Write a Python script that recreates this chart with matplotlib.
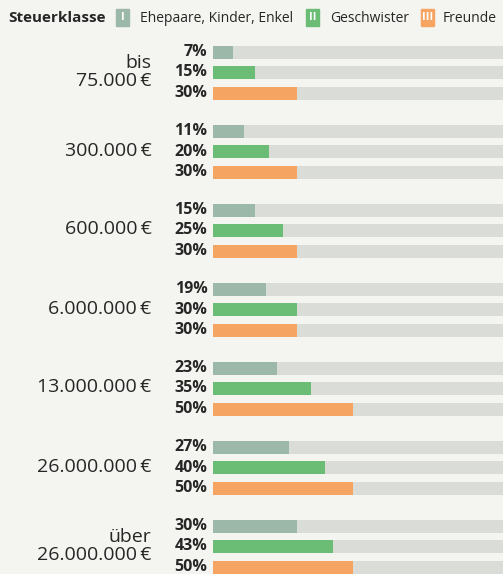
import matplotlib.pyplot as plt
from matplotlib.patches import Rectangle

# Erbschaftsteuersätze nach Steuerklasse
groups = ['bis\n75.000\u2009€', '300.000\u2009€', '600.000\u2009€', '6.000.000\u2009€',
          '13.000.000\u2009€', '26.000.000\u2009€', 'über\n26.000.000\u2009€']
klasse_1 = [7, 11, 15, 19, 23, 27, 30]   # Ehepaare, Kinder, Enkel
klasse_2 = [15, 20, 25, 30, 35, 40, 43]  # Geschwister
klasse_3 = [30, 30, 30, 30, 50, 50, 50]  # Freunde
legend_names = ['Ehepaare, Kinder, Enkel', 'Geschwister', 'Freunde']
legend_marks = ['I', 'II', 'III']

colors = ['#9bb8a8', '#6bbd76', '#f6a462']
track = '#dadcd7'
bg = '#f4f4f0'
txt = '#262626'

plt.rcParams['font.family'] = ['Open Sans', 'DejaVu Sans']

fig = plt.figure(figsize=(5.03, 5.74), dpi=100, facecolor=bg)
ax = fig.add_axes([0, 0, 1, 1])
ax.set_facecolor(bg)
ax.set_xlim(-213 / 2.8, 290 / 2.8)
ax.set_ylim(574, 0)
ax.axis('off')

series = [klasse_1, klasse_2, klasse_3]
y0, gstep, rstep, h = 52, 79, 20.5, 13
for g, name in enumerate(groups):
    ys = [y0 + gstep * g + rstep * k for k in range(3)]
    for k in range(3):
        ax.barh(ys[k], 110, height=h, color=track, left=0)
        ax.barh(ys[k], series[k][g], height=h, color=colors[k])
        ax.text(-2, ys[k], f'{series[k][g]}%', ha='right', va='center',
                fontsize=11.5, fontweight='bold', color=txt)
    ax.text(-22, ys[1] - 1, name, ha='right', va='center', fontsize=14,
            color=txt, linespacing=1.0)

# legend row
fig.text(8 / 503, 1 - 18 / 574, 'Steuerklasse', fontsize=11, fontweight='bold',
         color=txt, va='center', ha='left')
pos = [(116, 140), (306, 330), (421, 443)]
for (ix, tx), name, mark, c in zip(pos, legend_names, legend_marks, colors):
    fig.patches.append(Rectangle((ix / 503, 1 - 26 / 574), 13 / 503, 17 / 574,
                                 transform=fig.transFigure, color=c))
    fig.text((ix + 6.5) / 503, 1 - 18 / 574, mark, fontsize=8, color='white',
             ha='center', va='center', fontweight='bold')
    fig.text(tx / 503, 1 - 18 / 574, name, fontsize=10, color=txt,
             va='center', ha='left')

fig.savefig('out.png', dpi=100, facecolor=bg)
